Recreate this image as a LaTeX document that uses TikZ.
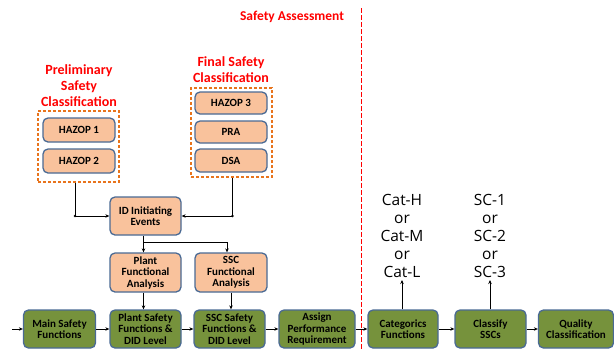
\documentclass[tikz,border=0pt]{standalone}
\usepackage{fontspec}
\setmainfont{Carlito}
\newfontfamily\catfont{Open Sans}
\usetikzlibrary{arrows.meta,calc}
\definecolor{peach}{HTML}{F9C29C}
\definecolor{olive}{HTML}{76923C}
\definecolor{bdr}{HTML}{4A6A94}
\definecolor{dorange}{HTML}{E8741C}
\definecolor{pured}{HTML}{FF0000}
\tikzset{
  base/.style={draw=bdr, line width=1.3pt, rounded corners=5pt, align=center, inner sep=1pt, font=\bfseries\fontsize{11}{11.5}\selectfont},
  obox/.style={base, fill=peach},
  gbox/.style={base, fill=olive, minimum height=38pt},
  dbox/.style={draw=dorange, line width=1.2pt, dash pattern=on 3pt off 2pt},
  redtitle/.style={text=pured, align=center, font=\bfseries\fontsize{14}{16}\selectfont},
  arr/.style={-{Stealth[length=4pt,width=3.5pt]}, line width=0.7pt},
  cattext/.style={align=center, font=\catfont\fontsize{15.5}{18}\selectfont, inner sep=2pt}
}
\begin{document}
\begin{tikzpicture}[x=1pt,y=-1pt]
\useasboundingbox (0,0) rectangle (614,349);
% header
\node[redtitle, font=\bfseries\fontsize{13.5}{15}\selectfont] (sa) at (292,17) {Safety Assessment};
\foreach \yy in {8,15,...,345} {
  \fill[pured] (360.8,\yy) rectangle (362.4,\yy+4.5);
}

% preliminary
\node[redtitle] (pt) at (79,86) {Preliminary\\Safety\\Classification};
\node[obox, minimum width=72pt, minimum height=24pt] (h1) at (79,130) {HAZOP 1};
\node[obox, minimum width=72pt, minimum height=24pt] (h2) at (79,161) {HAZOP 2};
\node[dbox, minimum width=81pt, minimum height=71pt] (pbox) at (78.5,146.5) {};

% final
\node[redtitle] (ft) at (231,70) {Final Safety\\Classification};
\node[obox, minimum width=72pt, minimum height=22pt] (h3) at (231,103) {HAZOP 3};
\node[obox, minimum width=72pt, minimum height=22pt] (pra) at (231,132) {PRA};
\node[obox, minimum width=72pt, minimum height=23pt] (dsa) at (231,160.5) {DSA};
\node[dbox, minimum width=81pt, minimum height=89pt] (fbox) at (231.5,132.5) {};

% middle
\node[obox, minimum width=71pt, minimum height=38pt] (id) at (145.5,216) {ID Initiating\\Events};
\node[obox, minimum width=71pt, minimum height=39pt] (pfa) at (145.5,272.5) {Plant\\Functional\\Analysis};
\node[obox, minimum width=72pt, minimum height=39pt] (sfa) at (231,272.5) {SSC\\Functional\\Analysis};

% bottom row
\node[gbox, minimum width=72pt] (main) at (59.5,329) {Main Safety\\Functions};
\node[gbox, minimum width=71pt] (pls) at (145.5,329) {Plant Safety\\Functions \&\\DID Level};
\node[gbox, minimum width=71pt] (sss) at (229.5,329) {SSC Safety\\Functions \&\\DID Level};
\node[gbox, minimum width=76pt] (apr) at (317,329) {Assign\\Performance\\Requirement};
\node[gbox, minimum width=70pt] (cat) at (403,329) {Categorics\\Functions};
\node[gbox, minimum width=71pt] (cls) at (490.5,329) {Classify\\SSCs};
\node[gbox, minimum width=75pt] (qc) at (576,329) {Quality\\Classification};

% category texts
\node[cattext, anchor=south] (catt) at (402,280) {Cat-H\\or\\Cat-M\\or\\Cat-L};
\node[cattext, anchor=south] (sct) at (490,280) {SC-1\\or\\SC-2\\or\\SC-3};

% connectors
\coordinate (in) at (12,329);
\draw[arr] (in) -- (main.west);
\draw[arr] (main) -- (pls);
\draw[arr] (pls) -- (sss);
\draw[arr] (sss) -- (apr);
\draw[arr] (apr) -- (cat);
\draw[arr] (cat) -- (cls);
\draw[arr] (cls) -- (qc);
\draw[arr] (cat.north -| catt) -- (catt.south);
\draw[arr] (cls.north -| sct) -- (sct.south);

\draw[arr] ([xshift=-3.5pt]pbox.south) |- (id.west);
\fill ([xshift=-3.5pt]pbox.south |- id.west) circle (1.3pt);
\draw[arr] ([xshift=1pt]fbox.south) |- (id.east);
\fill ([xshift=1pt]fbox.south |- id.east) circle (1.3pt);

\draw[arr] ([xshift=-2pt]id.south) -- ([xshift=-2pt]pfa.north);
\draw[arr] ([xshift=-2pt,yshift=-7pt]id.south) -| ([xshift=-4pt]sfa.north);
\draw[arr] ([xshift=-2pt]pfa.south) -- ([xshift=-2pt]pls.north);
\draw[arr] (sfa.south) -- (sfa.south |- sss.north);
\end{tikzpicture}
\end{document}
